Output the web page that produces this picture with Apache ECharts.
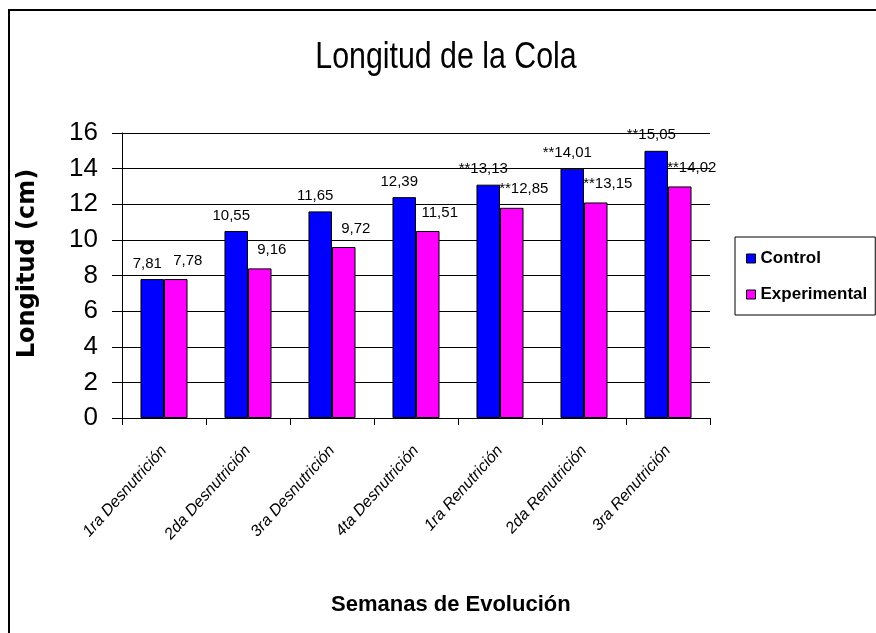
<!DOCTYPE html>
<html>
<head>
<meta charset="utf-8">
<script src="https://cdn.jsdelivr.net/npm/echarts@6/dist/echarts.min.js"></script>
<style>
  html, body { margin: 0; padding: 0; background: #fff; }
  #chart { width: 876px; height: 633px; }
</style>
</head>
<body>
<div id="chart"></div>
<script>
var semanas = ['1ra Desnutrición', '2da Desnutrición', '3ra Desnutrición', '4ta Desnutrición',
  '1ra Renutrición', '2da Renutrición', '3ra Renutrición']
// bar heights as drawn
var control = [7.8, 10.5, 11.6, 12.4, 13.1, 14.0, 15.0]
var experimental = [7.8, 8.4, 9.6, 10.5, 11.8, 12.1, 13.0]
// label texts as printed
var controlLabels = ['7,81', '10,55', '11,65', '12,39', '**13,13', '**14,01', '**15,05']
var experimentalLabels = ['7,78', '9,16', '9,72', '11,51', '**12,85', '**13,15', '**14,02']
var yTicks = [0, 2, 4, 6, 8, 10, 12, 14, 16]

var chart = echarts.init(document.getElementById('chart'))

function barSeries(name, color, values, labels, dx, dist) {
  return {
    name: name,
    type: 'bar',
    data: values,
    barGap: '0%',
    barCategoryGap: '44%',
    itemStyle: { color: color, borderColor: '#000', borderWidth: 1 },
    label: {
      show: true,
      position: 'top',
      distance: dist,
      offset: [dx, 0],
      color: '#000',
      fontFamily: 'Liberation Sans',
      fontSize: 15,
      formatter: function (p) { return labels[p.dataIndex] }
    },
    animation: false
  }
}

chart.setOption({
  backgroundColor: '#fff',
  graphic: [{
    type: 'rect',
    shape: { x: 9, y: 10, width: 900, height: 700 },
    style: { fill: 'none', stroke: '#000', lineWidth: 2 },
    z: -1
  }, {
    // condensed title, like the original
    type: 'text',
    x: 446,
    y: 39,
    scaleX: 0.82,
    style: {
      text: 'Longitud de la Cola',
      font: '37px "Liberation Sans"',
      textAlign: 'center',
      textVerticalAlign: 'top',
      fill: '#000'
    }
  }, {
    type: 'text',
    left: 331,
    top: 594,
    style: {
      text: 'Semanas de Evolución',
      font: 'bold 22px "Liberation Sans"',
      fill: '#000'
    }
  }],
  legend: {
    orient: 'vertical',
    left: 735,
    top: 237,
    padding: [13, 8, 12, 11],
    itemGap: 19,
    itemWidth: 9,
    itemHeight: 9,
    icon: 'rect',
    borderColor: '#000',
    borderWidth: 1,
    itemStyle: { borderColor: '#000', borderWidth: 1 },
    textStyle: { fontFamily: 'Liberation Sans', fontWeight: 'bold', fontSize: 17, color: '#000' },
    data: ['Control', 'Experimental']
  },
  grid: { left: 122, right: 166, top: 133, bottom: 215 },
  xAxis: {
    type: 'category',
    data: semanas,
    axisLine: { lineStyle: { color: '#000', width: 1 } },
    axisTick: { show: true, length: 7, lineStyle: { color: '#000' } },
    axisLabel: {
      rotate: 48,
      interval: 0,
      margin: 30,
      color: '#000',
      fontFamily: 'Liberation Sans',
      fontStyle: 'italic',
      fontSize: 16
    }
  },
  yAxis: {
    type: 'value',
    min: 0,
    max: 16,
    interval: 2,
    name: 'Longitud (cm)',
    nameLocation: 'middle',
    nameGap: 82,
    nameTextStyle: {
      fontFamily: 'DejaVu Sans',
      fontWeight: 'bold',
      fontSize: 24,
      color: '#000',
      padding: [0, 0, 0, 24]
    },
    axisLine: { show: true, lineStyle: { color: '#000', width: 1 } },
    axisTick: { show: true, length: 10, lineStyle: { color: '#000' } },
    splitLine: { lineStyle: { color: '#000', width: 1 } },
    axisLabel: {
      margin: 24,
      color: '#000',
      fontFamily: 'Liberation Sans',
      fontSize: 26,
      formatter: function (v) { return yTicks.indexOf(v) >= 0 ? String(v) : '' }
    }
  },
  series: [
    barSeries('Control', '#0000ff', control, controlLabels, -5, 8),
    barSeries('Experimental', '#ff00ff', experimental, experimentalLabels, 12, 11)
  ]
})
</script>
</body>
</html>
